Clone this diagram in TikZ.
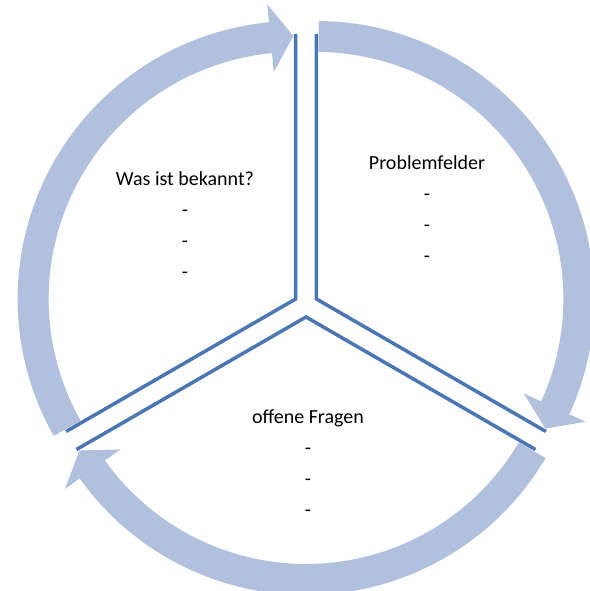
\documentclass[tikz,border=0pt]{standalone}
\usepackage{fontspec}
\setmainfont{Carlito}
\usepackage{tikz}

\definecolor{bandblue}{RGB}{176,192,221}
\definecolor{edgeblue}{RGB}{74,118,180}

\begin{document}
\begin{tikzpicture}[x=1pt, y=1pt,
    arrowband/.style={fill=bandblue},
    edgeline/.style={draw=edgeblue, line width=3.5pt},
    label/.style={align=center, inner sep=0pt, anchor=base,
      font=\fontsize{20}{31}\selectfont}]
    \useasboundingbox (0,0) rectangle (589,591);

    % Three sectors: curved arrow and edge lines
    \foreach \b in {150,30,-90} {
      \begin{scope}[shift={(306pt,286pt)}, shift={(\b:12pt)}]
        \fill[arrowband] (\b+59.5:278pt) arc[start angle=\b+59.5, end angle=\b-54.5, radius=278pt]
          -- (\b-54.5:296pt) -- (\b-59.5:263pt) -- (\b-54.5:228pt)
          -- (\b-54.5:247pt) arc[start angle=\b-54.5, end angle=\b+59.5, radius=247pt] -- cycle;
        \draw[edgeline] (\b+60:265pt) -- (0,0) -- (\b-60:265pt);
      \end{scope}
    }

    % Labels (base = last line)
    \node[label] (known) at (185,312) {Was ist bekannt?\\-\\-\\-};
    \node[label] (problems) at (427,328) {Problemfelder\\-\\-\\-};
    \node[label] (questions) at (308,74) {offene Fragen\\-\\-\\-};
\end{tikzpicture}
\end{document}
